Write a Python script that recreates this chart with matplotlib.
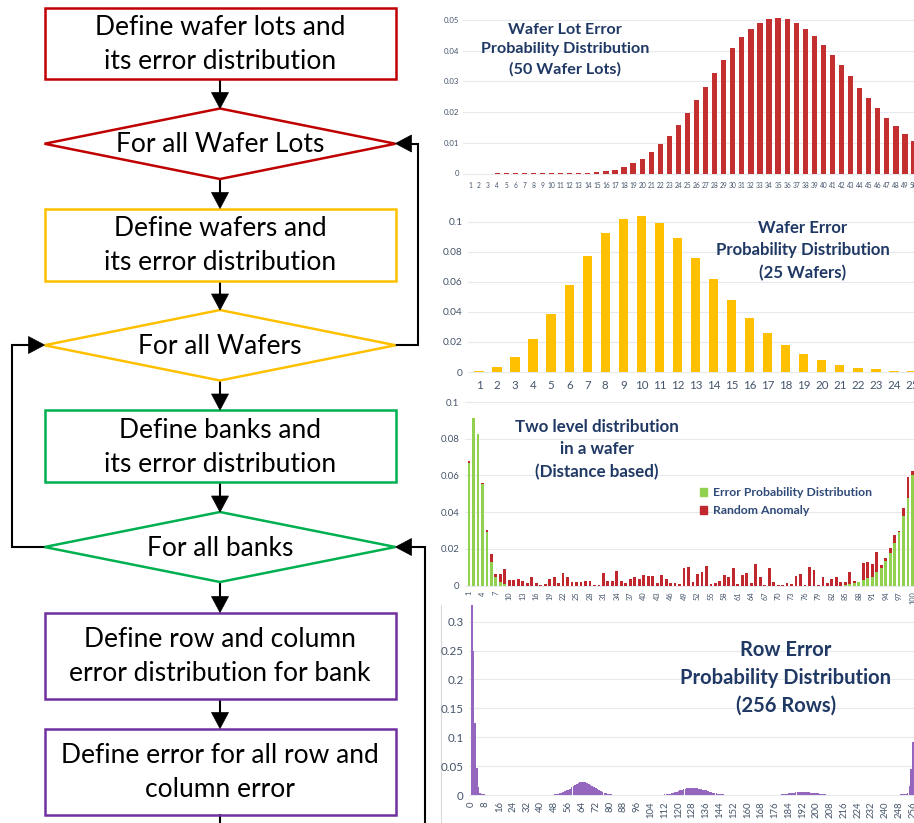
import matplotlib
matplotlib.use('Agg')
import matplotlib.pyplot as plt
from matplotlib.patches import Rectangle, Polygon
from matplotlib.patches import Patch

# ---------------- data ----------------
lot_ids = list(range(1, 51))
lot_prob = [0.0, 0.0, 0.0, 0.0002, 0.0002, 0.0002, 0.0002, 0.0002, 0.0002, 0.0002,
            0.0002, 0.0002, 0.0002, 0.0003, 0.0004, 0.0008, 0.0013, 0.0022, 0.0034, 0.0048,
            0.0069, 0.0095, 0.0123, 0.0158, 0.0197, 0.0239, 0.0283, 0.0326, 0.0369, 0.0408,
            0.0443, 0.0472, 0.0491, 0.0503, 0.0508, 0.0504, 0.0491, 0.0472, 0.0448, 0.0418,
            0.0385, 0.0352, 0.0316, 0.0280, 0.0246, 0.0213, 0.0182, 0.0154, 0.0129, 0.0106]
lot_yticks = [0, 0.01, 0.02, 0.03, 0.04, 0.05]
lot_ytick_labels = ['0', '0.01', '0.02', '0.03', '0.04', '0.05']

wafer_ids = list(range(1, 26))
wafer_prob = [0.0007, 0.0033, 0.0100, 0.0220, 0.0384, 0.0576, 0.0769, 0.0922, 0.1016, 0.1038,
              0.0991, 0.0889, 0.0758, 0.0616, 0.0479, 0.0357, 0.0262, 0.0177, 0.0120, 0.0078,
              0.0047, 0.0029, 0.0018, 0.0009, 0.0004]
wafer_yticks = [0, 0.02, 0.04, 0.06, 0.08, 0.1]
wafer_ytick_labels = ['0', '0.02', '0.04', '0.06', '0.08', '0.1']

bank_ids = list(range(1, 101))
bank_error = ([0.067, 0.0915, 0.0826, 0.0555, 0.0295, 0.013, 0.005, 0.002, 0.001, 0.0] +
              [0.0] * 74 +
              [0.0003, 0.001, 0.0015, 0.002, 0.003, 0.004, 0.005, 0.0075, 0.0095, 0.0135,
               0.018, 0.0235, 0.0295, 0.038, 0.048, 0.060])
bank_total = [0.0679, 0.0915, 0.0826, 0.0560, 0.0305, 0.0171, 0.0062, 0.0065, 0.0091, 0.0030,
              0.0030, 0.0035, 0.0025, 0.0015, 0.0050, 0.0015, 0.0003, 0.0010, 0.0035, 0.0045,
              0.0012, 0.0070, 0.0050, 0.0018, 0.0020, 0.0018, 0.0025, 0.0028, 0.0005, 0.0005,
              0.0070, 0.0025, 0.0025, 0.0082, 0.0025, 0.0012, 0.0035, 0.0045, 0.0035, 0.0058,
              0.0052, 0.0052, 0.0015, 0.0060, 0.0038, 0.0012, 0.0015, 0.0010, 0.0095, 0.0102,
              0.0020, 0.0065, 0.0075, 0.0107, 0.0008, 0.0015, 0.0025, 0.0060, 0.0050, 0.0095,
              0.0008, 0.0060, 0.0068, 0.0015, 0.0118, 0.0048, 0.0002, 0.0095, 0.0018, 0.0003,
              0.0003, 0.0015, 0.0008, 0.0052, 0.0065, 0.0003, 0.0100, 0.0085, 0.0003, 0.0048,
              0.0012, 0.0035, 0.0048, 0.0018, 0.0018, 0.0075, 0.0028, 0.0022, 0.0125, 0.0127,
              0.0120, 0.0185, 0.0113, 0.0150, 0.0203, 0.0276, 0.0300, 0.0425, 0.0593, 0.0624]
bank_anomaly = [max(t - e, 0.0) for t, e in zip(bank_total, bank_error)]
bank_xticks = list(range(1, 101, 3))
bank_yticks = [0, 0.02, 0.04, 0.06, 0.08, 0.1]
bank_ytick_labels = ['0', '0.02', '0.04', '0.06', '0.08', '0.1']

row_ids = list(range(0, 257))
row_prob = ([0.34, 0.25, 0.125, 0.047, 0.013, 0.003, 0.0012, 0.001, 0.0008, 0.0005] +
            [0.0] * 22 +
            [0.0005] * 16 +
            [0.001, 0.0015, 0.002, 0.003, 0.004, 0.005, 0.0065, 0.008, 0.0095, 0.011,
             0.013, 0.015, 0.017, 0.019, 0.0205, 0.022, 0.023, 0.0228, 0.022, 0.021,
             0.0195, 0.018, 0.016, 0.014, 0.012, 0.010, 0.0085, 0.007, 0.0055, 0.004,
             0.003, 0.002, 0.0015, 0.001, 0.0008] +
            [0.0005] * 29 +
            [0.001, 0.0015, 0.002, 0.0025, 0.003, 0.004, 0.005, 0.006, 0.007, 0.008,
             0.009, 0.010, 0.0108, 0.0113, 0.0117, 0.012, 0.012, 0.012, 0.0118, 0.0115,
             0.011, 0.0103, 0.0095, 0.0087, 0.0078, 0.007, 0.006, 0.005, 0.0042, 0.0035,
             0.0028, 0.0022, 0.0017, 0.0013, 0.001] +
            [0.0005] * 33 +
            [0.001, 0.0015, 0.002, 0.0025, 0.003, 0.0035, 0.004, 0.0043, 0.0046, 0.0048,
             0.005, 0.005, 0.005, 0.005, 0.0049, 0.0047, 0.0045, 0.0042, 0.0038, 0.0034,
             0.003, 0.0026, 0.0022, 0.0018, 0.0014, 0.0011, 0.0008] +
            [0.0005] * 18 +
            [0.0] * 23 +
            [0.0005, 0.001, 0.001, 0.0015, 0.002, 0.003, 0.015, 0.045, 0.092])
row_xticks = list(range(0, 257, 8))
row_yticks = [0, 0.05, 0.1, 0.15, 0.2, 0.25, 0.3]
row_ytick_labels = ['0', '0.05', '0.1', '0.15', '0.2', '0.25', '0.3']

flow_texts = ["Define wafer lots and\nits error distribution",
              "For all Wafer Lots",
              "Define wafers and\nits error distribution",
              "For all Wafers",
              "Define banks and\nits error distribution",
              "For all banks",
              "Define row and column\nerror distribution for bank",
              "Define error for all row and\ncolumn error"]

chart_titles = ["Wafer Lot Error\nProbability Distribution\n(50 Wafer Lots)",
                "Wafer Error\nProbability Distribution\n(25 Wafers)",
                "Two level distribution\nin a wafer\n(Distance based)",
                "Row Error\nProbability Distribution\n(256 Rows)"]
legend_labels = ["Error Probability Distribution", "Random Anomaly"]

# ---------------- style ----------------
RED = '#C00000'
YEL = '#FFC000'
GRN = '#00B050'
PUR = '#7030A0'
TITLE_C = '#1F3864'
TICK_C = '#44546A'
GRID_C = '#E6E9EE'

W, H = 914, 823
plt.rcParams['font.family'] = ['Lato', 'DejaVu Sans']
fig = plt.figure(figsize=(W / 100, H / 100), dpi=100)

# ---------------- flowchart ----------------
ax0 = fig.add_axes([0, 0, 1, 1])
ax0.set_xlim(0, W)
ax0.set_ylim(H, 0)
ax0.axis('off')

BL, BR = 44.5, 395.5
CX = (BL + BR) / 2
LW_BOX = 1.8
LW_LINE = 1.5
FS = 19

def box(top, bot, text, color):
    ax0.add_patch(Rectangle((BL, top), BR - BL, bot - top, fill=False,
                            edgecolor=color, lw=LW_BOX, zorder=2))
    ax0.text(CX, (top + bot) / 2 + 1, text, ha='center', va='center',
             fontsize=FS, color='black', linespacing=1.45, zorder=3)

def diamond(top, bot, text, color):
    cy = (top + bot) / 2
    ax0.add_patch(Polygon([(BL, cy), (CX, top), (BR, cy), (CX, bot)], closed=True,
                          fill=False, edgecolor=color, lw=LW_BOX, zorder=2))
    ax0.text(CX, cy + 1, text, ha='center', va='center', fontsize=FS,
             color='black', zorder=3)

def head(tx, ty, direction, L=16, w=8.5):
    if direction == 'down':
        pts = [(tx, ty), (tx - w, ty - L), (tx + w, ty - L)]
    elif direction == 'left':
        pts = [(tx, ty), (tx + L, ty - w), (tx + L, ty + w)]
    else:
        pts = [(tx, ty), (tx - L, ty - w), (tx - L, ty + w)]
    ax0.add_patch(Polygon(pts, closed=True, facecolor='black', edgecolor='black',
                          lw=0.5, zorder=4))

def down_arrow(y0, y1):
    ax0.plot([CX, CX], [y0, y1 - 10], color='black', lw=LW_LINE, zorder=1,
             solid_capstyle='butt')
    head(CX, y1, 'down')

box(7.5, 79, flow_texts[0], RED)
down_arrow(79, 108.5)
diamond(108.5, 179, flow_texts[1], RED)
down_arrow(179, 208.5)
box(208.5, 280.5, flow_texts[2], YEL)
down_arrow(280.5, 310)
diamond(310, 380.5, flow_texts[3], YEL)
down_arrow(380.5, 410)
box(410, 482, flow_texts[4], GRN)
down_arrow(482, 512)
diamond(512, 582, flow_texts[5], GRN)
down_arrow(582, 612.5)
box(612.5, 699, flow_texts[6], PUR)
down_arrow(699, 728.5)
box(728.5, 814.5, flow_texts[7], PUR)
ax0.plot([CX, CX], [814.5, H], color='black', lw=LW_LINE, zorder=1)

# loops
ax0.plot([BR, 418, 418, BR + 12], [345, 345, 143.5, 143.5], color='black',
         lw=LW_LINE, zorder=1, solid_joinstyle='miter')
head(BR, 143.5, 'left')
ax0.plot([BL, 12, 12, BL - 12], [547, 547, 345, 345], color='black',
         lw=LW_LINE, zorder=1, solid_joinstyle='miter')
head(BL, 345, 'right')
ax0.plot([424.5, 424.5, BR + 12], [H, 547, 547], color='black',
         lw=LW_LINE, zorder=1, solid_joinstyle='miter')
head(BR, 547, 'left')

# faint frame line of embedded chart
ax0.plot([441, 441], [605, H], color='#D9D9D9', lw=0.8, zorder=0)

# ---------------- charts ----------------
def add_chart(p0, i0, dx, z0, sy, L, R, T, B):
    ax = fig.add_axes([L / W, 1 - B / H, (R - L) / W, (B - T) / H])
    ax.set_facecolor('none')
    ax.set_xlim(i0 + (L - p0) / dx, i0 + (R - p0) / dx)
    ax.set_ylim((z0 - B) / sy, (z0 - T) / sy)
    for s in ax.spines.values():
        s.set_visible(False)
    ax.tick_params(length=0, colors=TICK_C)
    ax.set_axisbelow(True)
    return ax

def style_y(ax, ticks, labels, fs, pad):
    ax.set_yticks(ticks)
    ax.set_yticklabels(labels, fontsize=fs, color=TICK_C)
    ax.tick_params(axis='y', pad=pad)
    ax.grid(axis='y', color=GRID_C, lw=0.8)

# Chart 1
ax1 = add_chart(470, 1, 9.1, 173.5, 3070, 463, 914, 5, 176)
ax1.bar(lot_ids, lot_prob, width=0.58, color='#C3302F', zorder=2)
style_y(ax1, lot_yticks, lot_ytick_labels, 5.6, 3)
ax1.set_xticks(lot_ids)
ax1.set_xticklabels([str(v) for v in lot_ids], fontsize=4.8, color=TICK_C)
ax1.tick_params(axis='x', pad=4)

# Chart 2
ax2 = add_chart(479, 1, 18.04, 372, 1503, 468, 914, 205, 374)
ax2.bar(wafer_ids, wafer_prob, width=0.52, color=YEL, zorder=2)
style_y(ax2, wafer_yticks, wafer_ytick_labels, 7.3, 4)
ax2.set_xticks(wafer_ids)
ax2.set_xticklabels([str(v) for v in wafer_ids], fontsize=8.3, color=TICK_C)
ax2.tick_params(axis='x', pad=4)

# Chart 3
ax3 = add_chart(469, 1, 4.48, 585.7, 1837, 465, 914, 400, 587)
ax3.bar(bank_ids, bank_error, width=0.62, color='#92D050', zorder=2)
ax3.bar(bank_ids, bank_anomaly, bottom=bank_error, width=0.62, color='#C0282D', zorder=2)
style_y(ax3, bank_yticks, bank_ytick_labels, 6.8, 4)
ax3.set_xticks(bank_xticks)
ax3.set_xticklabels([str(v) for v in bank_xticks], fontsize=5.3, color=TICK_C, rotation=90)
ax3.tick_params(axis='x', pad=3)
leg = ax3.legend(handles=[Patch(color='#92D050'), Patch(color='#C0282D')],
                 labels=legend_labels, frameon=False, loc='upper left',
                 bbox_to_anchor=(700 / W, 1 - 487.5 / H), bbox_transform=fig.transFigure,
                 handlelength=0.6, handleheight=0.6, handletextpad=0.45,
                 labelspacing=0.55, borderpad=0, borderaxespad=0,
                 prop={'size': 8.8, 'weight': 'bold'})
for t in leg.get_texts():
    t.set_color('#2E4A78')

# Chart 4
ax4 = add_chart(471.7, 0, 1.723, 795, 577.7, 469, 914, 605, 797)
ax4.bar(row_ids, row_prob, width=0.95, color='#9466BE', zorder=2)
style_y(ax4, row_yticks, row_ytick_labels, 8.3, 4)
ax4.set_xticks(row_xticks)
ax4.set_xticklabels([str(v) for v in row_xticks], fontsize=6.8, color=TICK_C, rotation=90)
ax4.tick_params(axis='x', pad=3)

# titles
def ftitle(x, y, text, fs):
    fig.text(x / W, 1 - y / H, text, ha='center', va='center', fontsize=fs,
             fontweight='bold', color=TITLE_C, linespacing=1.5)

ftitle(565, 49.5, chart_titles[0], 11.6)
ftitle(803, 250.5, chart_titles[1], 12.1)
ftitle(597, 449.5, chart_titles[2], 12.2)
ftitle(786, 678, chart_titles[3], 14.5)

fig.savefig('out.png', dpi=100)
